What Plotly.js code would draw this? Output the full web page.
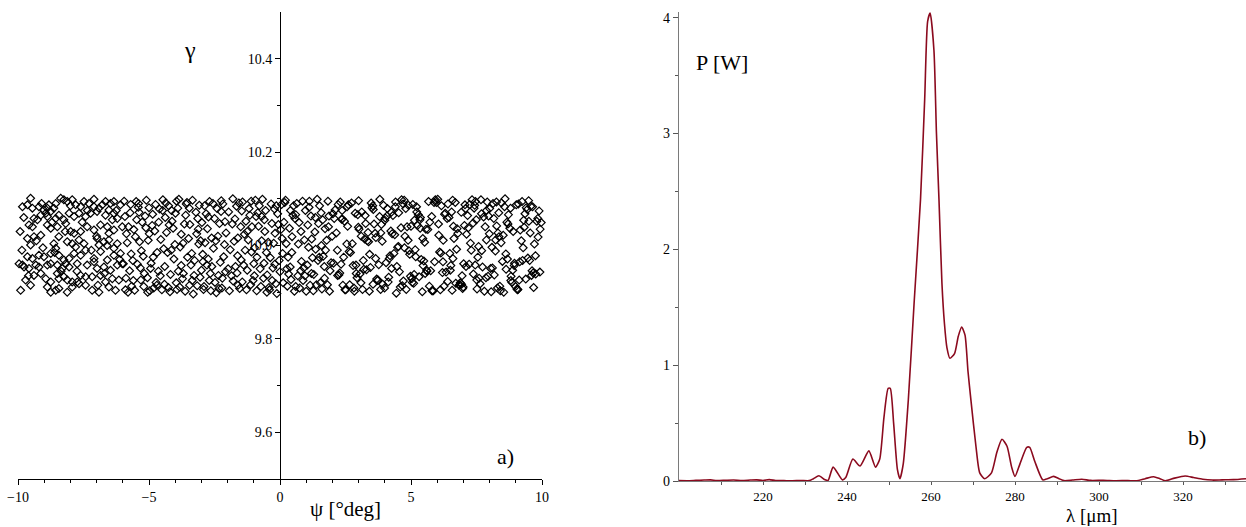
<!DOCTYPE html>
<html><head><meta charset="utf-8">
<script src="https://cdn.plot.ly/plotly-3.0.1.min.js"></script>
<style>html,body{margin:0;padding:0;background:#fff}#chart{width:1246px;height:527px}</style>
</head><body><div id="chart"></div>
<script>
// ---- panel a) : gamma vs psi (read from picture) ----
const psi = [
-9.83,-9.64,-9.52,-9.45,-9.20,-9.01,-8.88,-8.82,-8.63,-8.56,
-8.37,-8.25,-8.12,-7.93,-7.80,-7.61,-7.48,-7.29,-7.10,-7.10,
-6.91,-6.78,-6.66,-6.47,-6.34,-6.09,-9.39,-9.26,-9.13,-8.94,
-8.88,-8.75,-8.56,-8.44,-8.25,-8.05,-7.86,-7.67,-7.42,-7.23,
-6.98,-6.66,-6.53,-6.34,-6.21,-9.58,-9.45,-8.88,-8.75,-8.50,
-8.18,-7.99,-7.86,-7.61,-7.36,-7.10,-6.85,-6.59,-6.53,-6.34,
-6.02,-9.64,-9.39,-9.13,-9.52,-8.63,-8.44,-8.12,-7.93,-7.80,
-7.67,-7.48,-6.98,-6.91,-6.72,-6.53,-6.34,-6.21,-9.64,-9.45,
-9.20,-9.01,-8.75,-8.56,-8.44,-8.25,-8.05,-7.86,-7.61,-7.42,
-7.10,-6.85,-6.59,-6.34,-6.09,-9.96,-9.83,-9.77,-9.58,-9.32,
-9.20,-8.88,-8.75,-8.50,-8.31,-8.18,-8.05,-7.74,-7.36,-7.10,
-6.98,-6.72,-6.47,-6.21,-6.02,-9.71,-9.39,-9.13,-8.94,-8.75,
-8.50,-8.44,-8.25,-8.12,-7.93,-7.74,-7.61,-7.42,-7.17,-6.85,
-6.66,-6.40,-6.15,-9.90,-9.52,-8.88,-8.75,-8.56,-8.44,-8.12,
-7.93,-7.67,-7.42,-7.17,-6.91,-6.53,-6.28,-9.92,-9.85,-9.78,
-9.30,-9.05,-8.70,-8.35,-8.00,-7.55,-7.20,-6.95,-6.60,-6.25,
-9.60,-9.10,-8.60,-8.20,-7.75,-7.35,-7.00,-6.70,-6.40,-6.12,
-5.95,-5.78,-5.62,-5.41,-5.20,-5.03,-4.86,-4.64,-4.47,-4.29,
-4.12,-3.93,-3.77,-3.58,-3.40,-3.21,-3.05,-2.86,-2.69,-2.48,
-2.31,-2.15,-5.88,-5.70,-5.52,-5.33,-5.15,-4.97,-4.78,-4.60,
-4.41,-4.23,-4.05,-3.86,-3.69,-3.49,-3.31,-3.14,-2.95,-2.77,
-2.60,-2.40,-2.22,-2.06,-5.83,-5.66,-5.47,-5.29,-5.10,-4.92,
-4.73,-4.55,-4.36,-4.18,-3.99,-3.81,-3.62,-3.44,-3.26,-3.08,
-2.90,-2.73,-2.54,-2.35,-2.18,-5.98,-5.80,-5.58,-5.38,-5.22,
-5.06,-4.88,-4.69,-4.51,-4.33,-4.14,-3.96,-3.77,-3.55,-3.37,
-3.18,-3.00,-2.82,-2.64,-2.45,-2.28,-2.10,-5.92,-5.74,-5.55,
-5.36,-5.18,-5.00,-4.82,-4.63,-4.44,-4.26,-4.08,-3.90,-3.72,
-3.53,-3.34,-3.16,-2.98,-2.79,-2.61,-2.43,-2.25,-2.08,-5.86,
-5.68,-5.49,-5.31,-5.12,-4.94,-4.75,-4.57,-4.38,-4.20,-4.01,
-3.83,-3.65,-3.46,-3.28,-3.10,-2.92,-2.74,-2.56,-2.37,-2.20,
-5.90,-5.72,-5.44,-5.26,-4.99,-4.70,-4.48,-4.15,-3.88,-3.60,
-3.35,-3.12,-2.88,-2.66,-2.50,-2.33,-2.12,-5.60,-5.05,-4.40,
-3.95,-3.45,-3.03,-2.70,-2.24,-5.40,-4.84,-4.25,-3.70,-2.94,
-1.96,-1.79,-1.61,-1.43,-1.25,-1.07,-0.89,-0.70,-0.52,-0.34,
-0.16,0.03,0.21,0.39,0.57,0.75,0.93,1.11,1.29,1.47,
1.65,1.83,-1.90,-1.72,-1.54,-1.36,-1.18,-1.00,-0.82,-0.63,
-0.45,-0.27,-0.09,0.10,0.28,0.46,0.64,0.82,1.00,1.18,
1.36,1.54,1.72,1.91,-1.85,-1.66,-1.48,-1.30,-1.12,-0.94,
-0.76,-0.58,-0.40,-0.21,-0.03,0.15,0.33,0.52,0.70,0.88,
1.06,1.24,1.42,1.60,1.78,1.95,-1.93,-1.75,-1.57,-1.39,
-1.21,-1.03,-0.85,-0.67,-0.49,-0.31,-0.12,0.06,0.24,0.42,
0.60,0.79,0.97,1.15,1.33,1.51,1.69,1.87,-1.82,-1.64,
-1.46,-1.28,-1.09,-0.91,-0.73,-0.55,-0.37,-0.19,0.00,0.18,
0.36,0.55,0.73,0.91,1.09,1.27,1.45,1.63,1.81,1.99,
-1.98,-1.80,-1.62,-1.44,-1.15,-0.97,-0.79,-0.61,-0.42,-0.24,
-0.06,0.12,0.31,0.49,0.68,0.86,1.04,1.21,1.39,1.57,
1.74,1.89,-1.70,-1.33,-0.98,-0.60,-0.30,0.08,0.40,0.80,
1.20,1.58,-1.50,-0.88,-0.14,0.26,0.95,1.35,1.70,-0.50,
-1.10,-0.20,0.60,1.12,1.85,-1.60,-0.70,0.45,1.50,-1.25,
2.04,2.22,2.40,2.58,2.76,2.94,3.12,3.30,3.48,3.66,
3.84,4.02,4.20,4.38,4.56,4.74,4.92,5.10,5.28,5.46,
5.64,5.82,2.10,2.28,2.46,2.64,2.82,3.00,3.18,3.36,
3.54,3.72,3.90,4.08,4.26,4.44,4.62,4.80,4.98,5.16,
5.34,5.52,5.70,5.88,2.15,2.33,2.51,2.69,2.87,3.05,
3.23,3.41,3.59,3.77,3.95,4.13,4.31,4.49,4.67,4.85,
5.03,5.21,5.39,5.57,5.75,5.93,2.07,2.25,2.43,2.61,
2.79,2.97,3.15,3.33,3.51,3.69,3.87,4.05,4.23,4.41,
4.59,4.77,4.95,5.13,5.31,5.49,5.67,5.85,2.19,2.37,
2.55,2.73,2.91,3.09,3.27,3.45,3.63,3.81,3.99,4.17,
4.35,4.53,4.71,4.89,5.07,5.25,5.43,5.61,5.79,5.97,
2.02,2.20,2.38,2.56,2.84,3.02,3.20,3.38,3.56,3.74,
3.92,4.10,4.28,4.46,4.64,4.82,5.00,5.18,5.36,5.54,
5.72,5.90,2.30,2.66,3.10,3.42,3.80,4.15,4.52,4.90,
5.22,5.60,2.48,2.99,3.65,4.00,4.70,5.05,5.45,3.25,
2.90,3.85,4.40,5.12,5.80,2.35,3.55,4.25,5.35,4.75,
6.05,6.26,6.41,6.60,6.79,6.95,7.16,7.33,7.52,7.70,
7.88,8.04,8.23,8.41,8.57,8.77,8.95,9.13,9.30,9.49,
9.66,9.85,6.12,6.31,6.48,6.69,6.86,7.04,7.22,7.41,
7.58,7.77,7.94,8.13,8.30,8.49,8.66,8.85,9.02,9.21,
9.38,9.57,9.75,9.93,6.02,6.20,6.38,6.57,6.74,6.92,
7.10,7.27,7.46,7.64,7.83,8.00,8.18,8.36,8.54,8.72,
8.90,9.08,9.26,9.44,9.62,9.80,6.09,6.45,6.83,7.19,
7.55,7.91,8.27,8.63,8.99,9.35,9.71,6.16,6.52,6.88,
7.24,7.60,7.96,8.32,8.68,9.04,9.40,9.76,6.23,6.59,
6.97,7.37,7.73,8.09,8.45,8.81,9.17,9.53,9.89,6.34,
6.64,7.01,7.43,7.80,8.16,8.52,8.88,9.24,9.60,9.97,
6.28,6.71,7.12,7.49,7.86,8.22,8.59,8.94,9.32,9.68,
6.14,6.55,6.99,7.38,7.69,8.06,8.44,8.80,9.15,9.55,
6.40,6.76,7.08,7.30,7.67,8.11,8.39,8.70,9.10,9.46,
9.84,6.22,6.62,7.06,7.51,7.99,8.35,8.82,9.28,9.64,
6.06,6.50,6.93,7.45,7.88,8.26,8.62,9.07,9.50,9.92
];
const gamma = [
10.083,10.087,10.101,10.080,10.083,10.076,10.080,10.087,10.080,10.090,
10.101,10.098,10.094,10.098,10.087,10.083,10.094,10.090,10.099,10.083,
10.080,10.087,10.094,10.090,10.094,10.087,10.058,10.055,10.065,10.069,
10.062,10.073,10.058,10.065,10.055,10.069,10.062,10.069,10.062,10.069,
10.073,10.065,10.076,10.069,10.058,10.044,10.040,10.044,10.037,10.040,
10.047,10.030,10.026,10.030,10.040,10.033,10.044,10.040,10.026,10.033,
10.040,10.015,10.019,10.022,10.001,10.004,10.019,10.008,10.004,9.997,
10.012,10.004,10.015,10.001,10.008,10.012,9.994,10.004,9.976,9.972,
9.979,9.976,9.983,9.994,9.979,9.969,9.972,9.983,9.979,9.990,
9.972,9.987,9.969,9.979,9.983,9.961,9.958,9.954,9.951,9.958,
9.954,9.958,9.961,9.958,9.951,9.961,9.954,9.961,9.958,9.965,
9.951,9.954,9.947,9.958,9.961,9.926,9.936,9.940,9.929,9.922,
9.940,9.929,9.933,9.926,9.922,9.922,9.936,9.933,9.933,9.936,
9.922,9.929,9.926,9.904,9.915,9.911,9.900,9.904,9.908,9.900,
9.911,9.918,9.915,9.904,9.900,9.911,9.904,10.030,9.990,10.060,
10.010,9.995,10.050,9.945,10.085,10.050,9.990,9.915,10.000,10.075,
9.935,10.090,9.985,10.030,9.945,10.075,10.020,9.940,10.055,9.970,
10.095,10.040,9.968,10.082,9.912,10.011,10.067,9.945,10.098,9.985,
10.052,9.906,10.024,10.089,9.958,10.071,9.932,10.006,10.094,9.921,
10.047,9.976,9.930,10.088,10.019,9.952,10.063,9.903,10.031,10.078,
9.917,10.044,9.971,10.099,9.940,10.015,9.896,10.058,9.981,10.036,
9.955,10.079,9.909,10.027,10.006,9.913,10.055,9.989,10.097,9.962,
9.921,10.013,10.091,9.938,10.069,9.997,9.902,10.045,9.968,10.086,
9.912,10.061,9.994,9.936,10.089,9.961,9.900,10.034,10.071,9.977,
9.931,10.043,9.985,9.905,10.028,10.075,9.920,9.957,10.092,9.983,
10.025,9.947,10.068,9.903,10.010,9.964,10.051,10.062,9.946,9.904,
10.008,9.940,10.081,9.909,10.050,9.993,9.910,10.037,10.080,9.929,
9.975,10.097,9.914,10.049,9.958,10.016,9.899,10.073,9.944,10.025,
9.982,10.094,9.926,10.038,9.951,10.088,9.935,10.060,9.901,10.002,
9.911,10.046,10.080,9.936,10.003,9.906,9.971,10.090,10.020,9.930,
9.905,10.070,9.960,10.050,10.025,9.915,10.075,9.990,9.945,10.065,
9.925,10.035,10.085,9.940,10.058,9.908,10.002,9.925,9.900,9.955,
10.095,9.915,10.010,9.925,10.096,10.090,9.975,10.085,10.005,9.965,
10.072,9.924,10.016,10.093,9.947,10.040,9.903,10.062,9.985,10.089,
9.918,10.034,10.097,9.954,10.058,9.909,10.012,10.082,9.938,10.047,
9.977,10.095,9.991,10.057,9.908,10.024,10.079,9.961,10.041,9.930,
10.007,9.952,10.068,9.983,9.913,10.019,10.090,9.966,9.902,10.063,
9.992,9.920,10.036,9.946,9.935,10.084,9.969,10.052,9.916,10.097,
9.950,10.030,9.905,10.078,9.968,10.050,9.939,10.085,10.003,9.925,
10.044,9.974,10.099,9.907,10.011,9.963,9.903,10.009,10.091,9.958,
10.012,9.925,10.070,10.099,9.937,10.047,9.897,10.088,10.004,9.927,
10.066,9.946,10.075,9.915,10.029,10.085,9.955,10.063,10.046,9.941,
10.074,9.905,9.986,10.062,9.912,10.075,9.974,10.026,9.944,10.092,
10.037,9.902,10.049,9.952,9.996,9.903,9.968,10.055,9.916,10.020,
9.950,10.100,9.978,9.922,10.065,9.995,10.085,9.962,9.910,10.005,
10.045,9.920,9.975,10.065,9.935,10.095,9.958,10.014,9.916,10.070,
9.990,9.902,9.955,9.990,9.935,10.055,9.925,10.015,10.075,10.030,
9.940,10.000,10.040,9.975,10.085,9.950,9.935,10.060,9.930,9.900,
10.095,9.960,9.912,10.095,10.040,9.915,10.010,9.985,9.975,10.030,
9.962,10.088,9.915,10.041,10.004,9.931,10.072,9.948,10.091,10.017,
9.906,10.059,9.978,10.023,9.944,10.097,9.989,9.919,10.066,9.957,
10.034,9.903,10.076,9.941,10.052,9.987,9.909,10.096,9.968,10.028,
10.085,9.925,10.009,10.063,9.951,9.898,10.038,10.079,9.934,9.991,
10.055,10.007,9.913,10.092,10.027,9.960,9.905,9.985,10.069,9.939,
10.014,9.902,10.046,9.959,10.086,9.922,10.064,9.996,9.914,10.040,
9.929,10.083,9.970,10.035,9.946,10.098,10.058,9.937,9.975,10.087,
9.957,10.066,9.906,10.010,10.081,9.928,10.045,9.963,10.031,10.093,
9.911,10.020,9.981,10.054,9.933,9.967,10.094,9.903,9.990,10.075,
10.003,10.091,9.940,9.920,10.047,9.953,10.026,10.099,9.909,9.972,
9.983,10.070,9.924,10.011,10.088,10.043,9.901,9.945,10.062,10.092,
10.068,9.936,10.057,10.083,9.902,10.035,9.949,10.008,10.077,9.926,
9.917,10.079,10.025,9.955,10.098,9.906,10.041,9.976,10.060,9.940,
10.050,9.965,10.093,9.916,10.020,9.981,10.062,9.932,9.998,10.086,
10.072,9.947,9.905,10.039,9.972,10.054,10.089,9.921,10.015,10.064,
9.958,10.027,10.083,9.938,9.903,10.056,9.917,10.071,10.037,9.995,
10.046,9.913,10.089,9.972,10.026,9.935,10.064,10.098,9.907,9.989,
10.075,9.951,10.012,9.903,10.083,10.037,9.962,9.926,10.054,10.096,
9.941,10.018,9.905,10.069,9.983,10.092,9.916,10.043,9.960,10.080,
9.998,10.061,9.934,10.090,9.909,9.966,10.050,9.921,10.087,10.010,
9.928,10.084,9.978,10.035,10.099,9.942,10.058,9.904,9.992,10.071,
9.955,10.005,10.094,9.918,10.040,10.079,9.937,10.019,9.900,10.066,
10.030,9.906,9.968,10.077,9.946,10.052,9.986,10.060,9.915,10.038,
9.975,10.093,10.042,9.949,9.912,10.068,10.003,10.085,9.957,9.920,
10.088,9.930,10.063,10.027,9.971,9.907,10.081,9.939,10.011,10.097,
9.908,10.048,9.954,9.996,10.091,9.925,10.033,9.968,10.074,9.943,
10.015,9.961,10.086,9.902,10.058,10.022,9.947,10.094,9.936,10.049,
10.067,9.919,10.024,10.055,9.931,9.988,10.100,9.957,10.039,9.910,
9.984,10.072,9.911,9.939,10.068,9.901,10.006,10.080,9.965,10.027,
9.923,10.036,10.079,9.990,10.098,9.952,9.913,10.046,10.089,9.973,
10.058,9.965,10.041,10.087,9.926,10.025,10.070,9.934,9.995,10.083,
10.022,9.947,9.917,9.958,10.012,10.093,9.982,9.905,10.052,9.943
];
const psiTickVals = [-10,-5,0,5,10];
const psiMinorTicks = [-9,-8,-7,-6,-4,-3,-2,-1,1,2,3,4,6,7,8,9];
const gammaTickVals = [9.6,9.8,10.0,10.2,10.4];
const gammaTickText = ['9.6','9.8','10.0','10.2','10.4'];
const gammaMinorTicks = [9.7,9.9,10.1,10.3];

// ---- panel b) : P vs lambda (read from picture) ----
const lambda = [200,202,204,206,207.5,209,211,213,215,217,218.5,220,221.5,223,225,227,229,231,232,233.3,234.8,235.5,236.7,238.9,239.7,241.4,243.1,245.2,246.8,247.8,248.8,249.8,250.3,251.1,252.0,252.6,253.4,254.6,256.0,257.5,258.5,259.2,259.8,260.7,261.3,261.9,262.6,263.2,263.8,264.5,265.6,266.5,267.3,268.1,268.8,269.5,270.7,271.6,272.8,274.4,275.7,276.9,278.1,279.2,280.0,281.2,282.8,283.5,284.7,286.6,287.7,289.2,290.5,291.7,293.7,295.9,298,301,304,306.9,308.8,311,313,314.5,315.8,318,320.5,322.5,324.7,327,329.3,332,335];
const power = [0.003,0.002,0.005,0.008,0.010,0.004,0.006,0.008,0.004,0.008,0.010,0.004,0.012,0.004,0.003,0.002,0.004,0.003,0.020,0.045,0.010,0.005,0.120,0.010,0.030,0.190,0.130,0.260,0.120,0.190,0.550,0.800,0.800,0.500,0.100,0.020,0.150,0.700,1.550,2.430,3.300,3.970,4.040,3.720,3.000,2.430,1.710,1.360,1.150,1.060,1.100,1.250,1.330,1.260,0.950,0.700,0.300,0.070,0.020,0.070,0.250,0.360,0.300,0.120,0.040,0.150,0.290,0.290,0.170,0.010,0.020,0.040,0.020,0.003,0.008,0.015,0.005,0.006,0.002,0.004,0.001,0.020,0.037,0.020,0.002,0.025,0.043,0.030,0.015,0.008,0.010,0.012,0.020];
const lambdaTickVals = [220,240,260,280,300,320];
const lambdaMinorTicks = [210,230,250,270,290,310,330];
const powerTickVals = [0,1,2,3,4];
const powerMinorTicks = [0.5,1.5,2.5,3.5];

const serif = 'Liberation Serif';
const tickFont = {family: serif, size: 14, color: '#000'};
const W = 1246, H = 527;

const traces = [
  {type:'scatter', mode:'markers', x:psi, y:gamma, xaxis:'x', yaxis:'y',
   marker:{symbol:'diamond-open', size:6, color:'#000', line:{width:1.2, color:'#000'}},
   hoverinfo:'skip', cliponaxis:false},
  {type:'scatter', mode:'lines', x:lambda, y:power, xaxis:'x2', yaxis:'y2',
   line:{color:'#8b0a1e', width:1.6, shape:'spline', smoothing:0.6}, hoverinfo:'skip'}
];

function ann(text, px, py, size, yanchor) {
  return {text:text, x:px/W, y:(H-py)/H, xref:'paper', yref:'paper', showarrow:false, borderpad:0,
          xanchor:'center', yanchor:yanchor || 'middle', font:{family:serif, size:size, color:'#000'}};
}

const layout = {
  width:W, height:H, margin:{l:0,r:0,t:0,b:0}, paper_bgcolor:'#fff', plot_bgcolor:'rgba(0,0,0,0)',
  showlegend:false, font:{family:serif, color:'#000'},
  xaxis:{domain:[18/W, 542/W], range:[-10,10], anchor:'y', showline:true, linecolor:'#000', linewidth:1,
         ticks:'outside', ticklen:5, tickwidth:1, tickcolor:'#000', tickmode:'array', tickvals:psiTickVals,
         minor:{tickmode:'array', tickvals:psiMinorTicks, ticks:'outside', ticklen:3, tickcolor:'#000', showgrid:false},
         showgrid:false, zeroline:false, tickfont:tickFont, automargin:false, fixedrange:true},
  yaxis:{domain:[(H-479)/H, (H-12)/H], range:[9.5,10.5], anchor:'free', position:280/W, side:'left',
         showline:true, linecolor:'#000', linewidth:1, ticks:'outside', ticklen:5, tickcolor:'#000',
         tickmode:'array', tickvals:gammaTickVals, ticktext:gammaTickText,
         minor:{tickmode:'array', tickvals:gammaMinorTicks, ticks:'outside', ticklen:3, tickcolor:'#000', showgrid:false},
         showgrid:false, zeroline:false, tickfont:tickFont, automargin:false, fixedrange:true, layer:'below traces'},
  xaxis2:{domain:[679/W, 1], range:[200,335], anchor:'y2', showline:true, linecolor:'#7a7a7a', linewidth:1.2,
          ticks:'outside', ticklen:3, tickcolor:'#555', tickmode:'array', tickvals:lambdaTickVals,
          minor:{tickmode:'array', tickvals:lambdaMinorTicks, ticks:'outside', ticklen:3, tickcolor:'#555', showgrid:false},
          showgrid:false, zeroline:false, tickfont:{family:serif, size:13, color:'#000'}, automargin:false, fixedrange:true},
  yaxis2:{domain:[(H-481)/H, (H-12)/H], range:[0,4.05], anchor:'x2', showline:true, linecolor:'#7a7a7a', linewidth:1.2,
          ticks:'outside', ticklen:5, tickcolor:'#555', tickmode:'array', tickvals:powerTickVals,
          minor:{tickmode:'array', tickvals:powerMinorTicks, ticks:'outside', ticklen:3, tickcolor:'#555', showgrid:false},
          showgrid:false, zeroline:false, tickfont:tickFont, automargin:false, fixedrange:true},
  annotations:[
    ann('γ', 190, 50, 24),
    ann('ψ [°deg]', 345, 509, 21),
    ann('a)', 505, 456, 22),
    ann('P [W]', 722, 62, 22),
    ann('λ [μm]', 1092, 527, 19, 'bottom'),
    ann('b)', 1197, 438, 22)
  ]
};

Plotly.newPlot('chart', traces, layout, {displayModeBar:false, staticPlot:true});
</script>
</body></html>
